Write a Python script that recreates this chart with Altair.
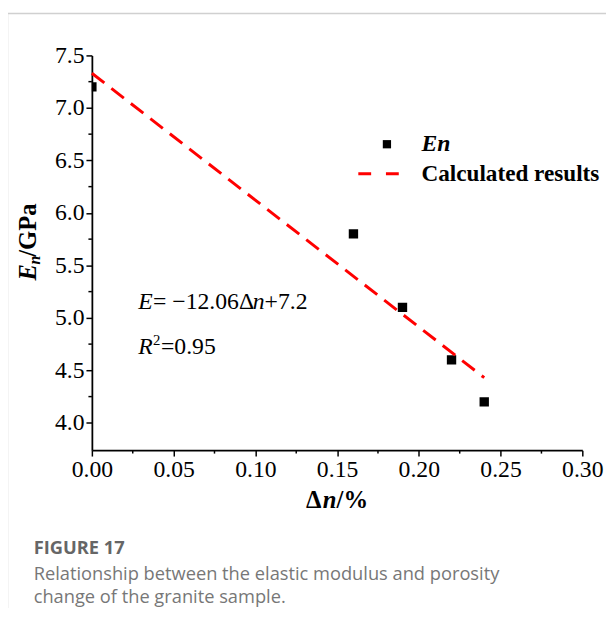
import altair as alt
import pandas as pd

# ---- data ----
dn_values = [0.00, 0.16, 0.19, 0.22, 0.24]
en_values = [7.2, 5.8, 5.1, 4.6, 4.2]
fit_dn = [0.00, 0.24]
fit_en = [7.33, 4.43]
x_major = [0.00, 0.05, 0.10, 0.15, 0.20, 0.25, 0.30]
x_minor = [0.025, 0.075, 0.125, 0.175, 0.225, 0.275]
y_major = [4.0, 4.5, 5.0, 5.5, 6.0, 6.5, 7.0, 7.5]
y_minor = [4.25, 4.75, 5.25, 5.75, 6.25, 6.75, 7.25]

W, H = 497, 400
SERIF = "Liberation Serif"
SANS = "Open Sans"

pts = pd.DataFrame({"dn": dn_values, "en": en_values})
fit = pd.DataFrame({"dn": fit_dn, "en": fit_en})

xs = alt.Scale(domain=[0, 0.30], nice=False, zero=False)
ys = alt.Scale(domain=[3.74, 7.5], nice=False, zero=False)

x_axis = alt.Axis(values=x_major, format=".2f", title=None, labelFont=SERIF,
                  labelFontSize=24, labelColor="black", tickColor="black",
                  tickSize=6, tickWidth=1.5, domainColor="black", domainWidth=1.8,
                  labelPadding=2, grid=False, labelFlush=False)
y_axis = alt.Axis(values=y_major, format=".1f", title=None, labelFont=SERIF,
                  labelFontSize=24, labelColor="black", tickColor="black",
                  tickSize=6, tickWidth=1.5, domainColor="black", domainWidth=1.8,
                  labelPadding=2, grid=False, labelFlush=False)

points = alt.Chart(pts).mark_square(size=90, color="black", opacity=1, clip=True).encode(
    x=alt.X("dn:Q", scale=xs, axis=x_axis),
    y=alt.Y("en:Q", scale=ys, axis=y_axis),
)

line = alt.Chart(fit).mark_line(color="#ff0000", strokeWidth=3, strokeDash=[16, 9]).encode(
    x=alt.X("dn:Q", scale=xs),
    y=alt.Y("en:Q", scale=ys),
)

xminor = alt.Chart(pd.DataFrame({"v": x_minor})).mark_rule(color="black", strokeWidth=1.5).encode(
    x=alt.X("v:Q", scale=xs), y=alt.value(H), y2=alt.value(H + 3.5)
)
yminor = alt.Chart(pd.DataFrame({"v": y_minor})).mark_rule(color="black", strokeWidth=1.5).encode(
    y=alt.Y("v:Q", scale=ys), x=alt.value(0), x2=alt.value(-3.5)
)

one = pd.DataFrame({"a": [0]})


def txt(s, x, y, size=24, font=SERIF, weight="normal", style="normal",
        color="black", angle=0, align="left", baseline="middle"):
    kw = dict(text=s, font=font, fontSize=size, fontWeight=weight, fontStyle=style,
              color=color, align=align, baseline=baseline)
    if angle:
        kw["angle"] = angle
    return alt.Chart(one).mark_text(**kw).encode(x=alt.value(x), y=alt.value(y))


def rule(x1, y1, x2, y2, color, width, dash=None):
    kw = dict(color=color, strokeWidth=width)
    if dash:
        kw["strokeDash"] = dash
    return alt.Chart(one).mark_rule(**kw).encode(
        x=alt.value(x1), y=alt.value(y1), x2=alt.value(x2), y2=alt.value(y2))


annot = [
    txt("E", 47, 250, style="italic"),
    txt("= \u221212.06\u0394", 62, 250),
    txt("n", 163, 250, style="italic"),
    txt("+7.2", 175, 250),
    txt("R", 47, 296, style="italic"),
    txt("2", 62, 288, size=15),
    txt("=0.95", 70, 296),
]

legend = [
    alt.Chart(one).mark_square(size=70, color="black", opacity=1).encode(
        x=alt.value(299), y=alt.value(90)),
    txt("En", 334, 90, size=24, weight="bold", style="italic"),
    rule(270, 120, 311, 120, "#ff0000", 3, [13, 15]),
    txt("Calculated results", 334, 120, size=23.5, weight="bold"),
]

titles = [
    txt("E", -65, 228, size=25, weight="bold", style="italic", angle=270),
    txt("n", -58, 212, size=16, weight="bold", style="italic", angle=270),
    txt("/GPa", -65, 204, size=25, weight="bold", angle=270),
    txt("\u0394", 217, 451, size=25, weight="bold"),
    txt("n", 234, 451, size=25, weight="bold", style="italic"),
    txt("/%", 248, 451, size=25, weight="bold"),
]

caption = [
    txt("FIGURE 17", -59, 499, size=18.5, font=SANS, weight="bold", color="#666666"),
    txt("Relationship between the elastic modulus and porosity", -59, 526,
        size=18.5, font=SANS, color="#777777"),
    txt("change of the granite sample.", -59, 549, size=18.5, font=SANS, color="#777777"),
]

frame = [
    rule(-86, -42.5, 540, -42.5, "#d0d0d0", 1.5),
    rule(-85.5, -43, -85.5, 560, "#d0d0d0", 1.5),
]

chart = alt.layer(
    *frame, points, line, xminor, yminor, *annot, *legend, *titles, *caption
).properties(
    width=W, height=H,
    padding={"left": 85, "top": 44, "right": 24, "bottom": 162},
    autosize=alt.AutoSizeParams(type="none"),
).configure_view(stroke=None)

chart.save("out.html", embed_options={"renderer": "svg", "actions": False})
